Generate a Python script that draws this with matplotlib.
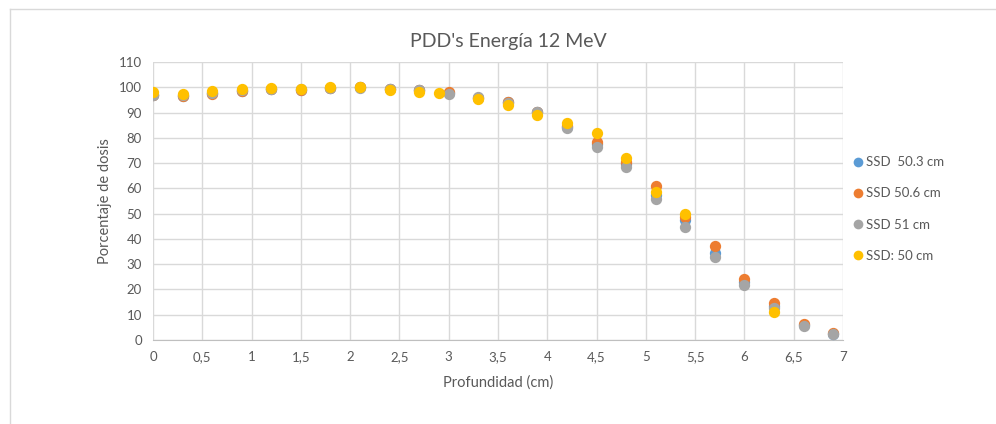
import matplotlib
matplotlib.use("Agg")
import matplotlib.pyplot as plt
from matplotlib.lines import Line2D

# Depth (cm) and percentage depth dose for each SSD
depth = [0, 0.3, 0.6, 0.9, 1.2, 1.5, 1.8, 2.1, 2.4, 2.7, 3.0, 3.3,
         3.6, 3.9, 4.2, 4.5, 4.8, 5.1, 5.4, 5.7, 6.0, 6.3, 6.6, 6.9]
ssd_503 = [97.0, 96.7, 97.6, 98.7, 99.3, 99.0, 99.8, 100.0, 99.4, 98.9, 97.8, 95.9,
           94.0, 90.2, 84.2, 77.5, 69.5, 57.5, 47.5, 34.3, 23.0, 13.5, 5.8, 2.3]
ssd_506 = [97.0, 96.5, 97.4, 98.5, 99.3, 98.8, 99.8, 100.0, 99.3, 98.8, 98.0, 95.8,
           94.3, 90.3, 84.5, 78.5, 70.5, 60.9, 48.5, 37.2, 24.2, 14.5, 6.3, 2.7]
ssd_51 = [96.8, 96.8, 97.8, 98.8, 99.3, 99.2, 99.8, 99.9, 99.5, 99.0, 97.3, 96.0,
          93.8, 90.3, 83.8, 76.5, 68.3, 55.8, 44.8, 33.0, 21.8, 12.5, 5.5, 2.2]
depth_50 = [0, 0.3, 0.6, 0.9, 1.2, 1.5, 1.8, 2.1, 2.4, 2.7, 2.9, 3.3,
            3.6, 3.9, 4.2, 4.5, 4.8, 5.1, 5.4, 6.3]
ssd_50 = [98.2, 97.3, 98.5, 99.2, 99.6, 99.4, 100.0, 100.0, 98.9, 98.3, 97.6, 95.4,
          93.0, 89.0, 85.8, 81.8, 71.9, 58.4, 49.9, 11.0]

labels = ["SSD  50.3 cm", "SSD 50.6 cm", "SSD 51 cm", "SSD: 50 cm"]
colors = ["#5B9BD5", "#ED7D31", "#A5A5A5", "#FFC000"]

x_ticks = [0, 0.5, 1, 1.5, 2, 2.5, 3, 3.5, 4, 4.5, 5, 5.5, 6, 6.5, 7]
x_ticklabels = ["0", "0,5", "1", "1,5", "2", "2,5", "3", "3,5", "4", "4,5",
                "5", "5,5", "6", "6,5", "7"]
y_ticks = list(range(0, 111, 10))

plt.rcParams["font.family"] = ["Lato", "DejaVu Sans"]
text_color = "#595959"
grid_color = "#D9D9D9"

fig = plt.figure(figsize=(9.96, 4.24), dpi=100)
ax = fig.add_axes([153 / 996, 84 / 424, 690 / 996, 278 / 424])

series = [(depth, ssd_503), (depth, ssd_506), (depth, ssd_51), (depth_50, ssd_50)]
for (xs, ys), c, lab in zip(series, colors, labels):
    ax.scatter(xs, ys, s=66, color=c, label=lab, zorder=3, linewidths=0)

ax.set_xlim(0, 7)
ax.set_ylim(0, 110)
ax.set_xticks(x_ticks)
ax.set_xticklabels(x_ticklabels)
ax.set_yticks(y_ticks)
ax.grid(True, color=grid_color, linewidth=1)
ax.set_axisbelow(True)
for side in ["top", "right", "left"]:
    ax.spines[side].set_visible(False)
ax.spines["bottom"].set_color("#BFBFBF")
ax.tick_params(length=0, labelsize=9.5, labelcolor=text_color, pad=8)

ax.set_xlabel("Profundidad (cm)", fontsize=10.5, color=text_color, labelpad=9)
ax.set_ylabel("Porcentaje de dosis", fontsize=10.5, color=text_color, labelpad=5)
fig.text(508 / 996, 1 - 42 / 424, "PDD's Energía 12 MeV", fontsize=14,
         color=text_color, ha="center", va="center")

handles = [Line2D([], [], marker="o", linestyle="", markersize=7,
                  markerfacecolor=c, markeredgewidth=0) for c in colors]
fig.legend(handles, labels, loc="center left",
           bbox_to_anchor=(838 / 996, 1 - 209 / 424), frameon=False,
           fontsize=9.5, labelcolor=text_color, handletextpad=0.0,
           handlelength=1.2, labelspacing=1.45)

# Chart-area border
fig.add_artist(Line2D([10 / 996, 10 / 996], [0, 1 - 8.5 / 424],
                      transform=fig.transFigure, color="#D9D9D9", linewidth=1))
fig.add_artist(Line2D([10 / 996, 1], [1 - 8.5 / 424, 1 - 8.5 / 424],
                      transform=fig.transFigure, color="#D9D9D9", linewidth=1))

fig.savefig("out.png", dpi=100, facecolor="white")
